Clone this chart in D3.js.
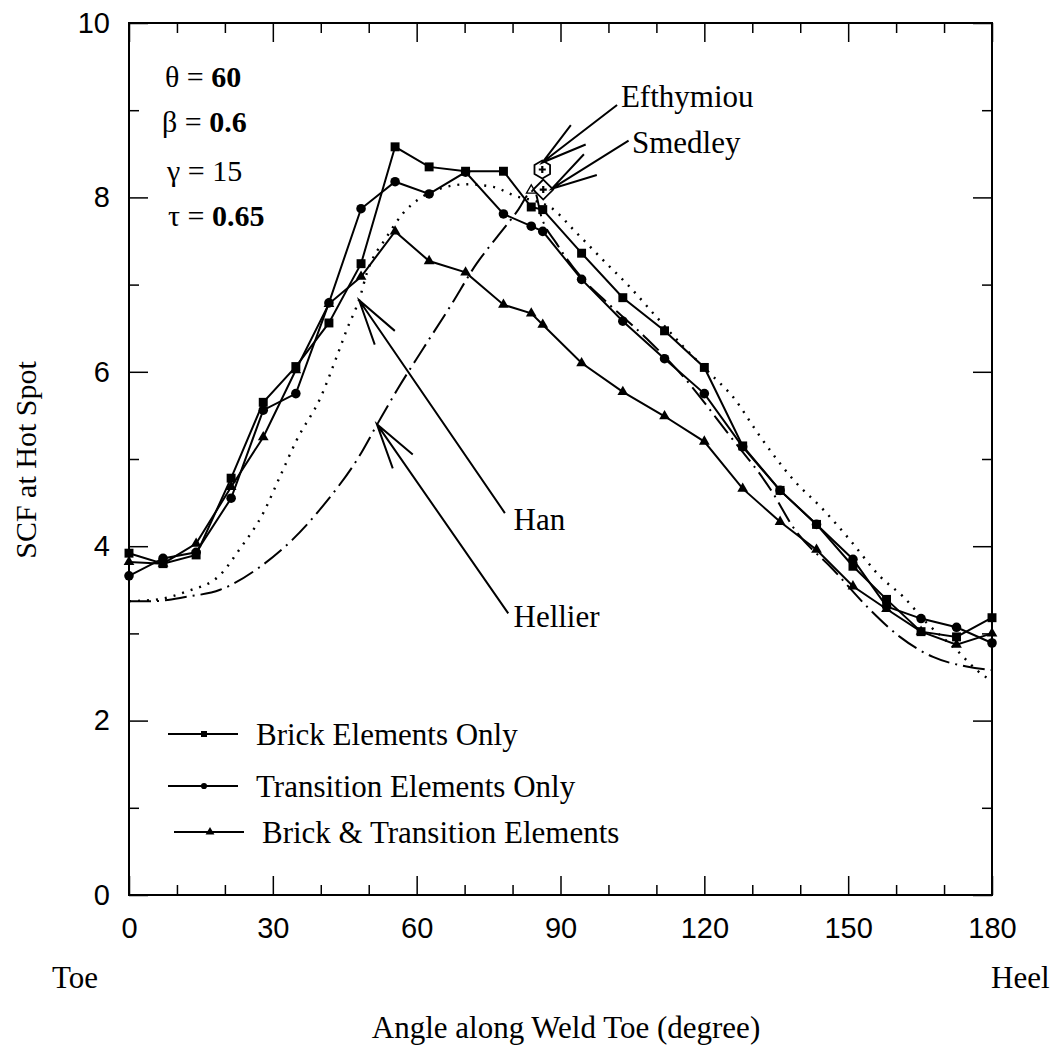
<!DOCTYPE html>
<html lang="en">
<head>
  <meta charset="UTF-8">
  <title>SCF at Hot Spot</title>
  <script src="https://d3js.org/d3.v7.min.js"></script>
  <style>
    body { margin: 0; background: #fff; }
    .tick text { font-family: "Liberation Sans", Arial, sans-serif; font-size: 29px; fill: #000; }
    .lbl { font-family: "Liberation Serif", "Times New Roman", serif; font-size: 31px; fill: #000; }
  </style>
</head>
<body>
<div id="chart"></div>
<script>
// FE results, angle along weld toe (degree)
const angles = [0, 7.1, 14, 21.3, 28, 34.8, 41.7, 48.4, 55.5, 62.6, 70.2, 78.1, 83.9, 86.3, 94.4, 103, 111.7, 120, 128, 135.8, 143.4, 151, 158, 165.2, 172.6, 180];
const brickOnly = [3.92, 3.80, 3.90, 4.78, 5.65, 6.06, 6.56, 7.24, 8.58, 8.35, 8.30, 8.30, 7.89, 7.86, 7.36, 6.85, 6.47, 6.05, 5.15, 4.64, 4.25, 3.77, 3.39, 3.02, 2.96, 3.18];
const transitionOnly = [3.66, 3.86, 3.93, 4.55, 5.56, 5.75, 6.79, 7.87, 8.18, 8.04, 8.29, 7.81, 7.67, 7.61, 7.06, 6.58, 6.15, 5.75, 5.14, 4.64, 4.25, 3.85, 3.31, 3.17, 3.07, 2.89];
const brickTransition = [3.82, 3.80, 4.03, 4.68, 5.25, 6.02, 6.78, 7.09, 7.61, 7.27, 7.14, 6.77, 6.67, 6.54, 6.10, 5.77, 5.49, 5.20, 4.66, 4.28, 3.96, 3.54, 3.28, 3.02, 2.87, 3.00];

// parametric equations
const hanAngles = [0, 6, 12, 19, 23, 28, 31.5, 35, 40, 43.3, 45.4, 48.2, 49.6, 53.8, 57.2, 60.7, 64.9, 70.4, 76, 80.9, 84, 87.8, 93.4, 98.9, 104.5, 110, 115.6, 121.2, 126, 131.6, 138.6, 144.8, 150.4, 156.7, 161.5, 166.4, 172.6, 176.8, 180];
const hanSCF = [3.37, 3.39, 3.48, 3.67, 3.96, 4.38, 4.80, 5.22, 5.71, 6.17, 6.48, 6.86, 7.13, 7.55, 7.82, 7.99, 8.10, 8.15, 8.12, 8.01, 7.97, 7.89, 7.59, 7.28, 6.97, 6.63, 6.29, 5.98, 5.71, 5.26, 4.76, 4.42, 4.07, 3.65, 3.42, 3.12, 2.81, 2.58, 2.45];
const hellierAngles = [0, 5, 12, 19, 27, 34, 41, 48, 52, 56, 61.4, 67, 72.5, 77.4, 81.2, 83.5, 84.5, 86, 89.2, 94.4, 100, 108, 116, 124.7, 134.3, 138.5, 146.9, 154.6, 160.8, 167.7, 174.7, 180];
const hellierSCF = [3.37, 3.37, 3.42, 3.50, 3.75, 4.07, 4.50, 5.03, 5.42, 5.80, 6.27, 6.75, 7.24, 7.59, 7.86, 8.05, 8.08, 7.78, 7.47, 7.08, 6.78, 6.38, 5.92, 5.31, 4.61, 4.22, 3.73, 3.27, 2.96, 2.73, 2.62, 2.58];

// single point predictions
const efthymiouPt = [86.2, 8.32];
const smedleyPt = [86.4, 8.09];
const otherPt = [83.9, 8.08];

const xTicks = [0, 30, 60, 90, 120, 150, 180];
const yTicks = [0, 2, 4, 6, 8, 10];

const w = 1050, h = 1049;
const margin = { top: 23, right: 58, bottom: 154, left: 129 };
const iw = w - margin.left - margin.right;
const ih = h - margin.top - margin.bottom;

const svg = d3.select("#chart").append("svg")
  .attr("width", w)
  .attr("height", h)
  .style("display", "block");

const g = svg.append("g").attr("transform", `translate(${margin.left},${margin.top})`);

const x = d3.scaleLinear().domain([0, 180]).range([0, iw]);
const y = d3.scaleLinear().domain([0, 10]).range([ih, 0]);

// ticks on all four sides, pointing inward
const xMinor = d3.range(0, 181, 10).filter(d => d % 30 !== 0);
const yMinor = d3.range(1, 10, 2);

function styleAxis(sel) {
  sel.select(".domain").remove();
  sel.selectAll(".tick line").attr("stroke", "#000").attr("stroke-width", 1.5);
}

g.append("g").attr("transform", `translate(0,${ih})`)
  .call(d3.axisBottom(x).tickValues(xTicks).tickSizeInner(-19).tickSizeOuter(0).tickPadding(22))
  .call(styleAxis);
g.append("g").attr("transform", `translate(0,${ih})`)
  .call(d3.axisBottom(x).tickValues(xMinor).tickSize(-10).tickFormat(""))
  .call(styleAxis);
g.append("g")
  .call(d3.axisTop(x).tickValues(xTicks).tickSize(-19).tickFormat(""))
  .call(styleAxis);
g.append("g")
  .call(d3.axisTop(x).tickValues(xMinor).tickSize(-10).tickFormat(""))
  .call(styleAxis);
g.append("g")
  .call(d3.axisLeft(y).tickValues(yTicks).tickSizeInner(-19).tickSizeOuter(0).tickPadding(19))
  .call(styleAxis);
g.append("g")
  .call(d3.axisLeft(y).tickValues(yMinor).tickSize(-10).tickFormat(""))
  .call(styleAxis);
g.append("g").attr("transform", `translate(${iw},0)`)
  .call(d3.axisRight(y).tickValues(yTicks).tickSize(-19).tickFormat(""))
  .call(styleAxis);
g.append("g").attr("transform", `translate(${iw},0)`)
  .call(d3.axisRight(y).tickValues(yMinor).tickSize(-10).tickFormat(""))
  .call(styleAxis);

g.selectAll(".tick text").attr("fill", "#000");

g.append("rect")
  .attr("width", iw).attr("height", ih)
  .attr("fill", "none").attr("stroke", "#000").attr("stroke-width", 2);

// curves
const curveLine = d3.line().x(d => x(d[0])).y(d => y(d[1])).curve(d3.curveMonotoneX);

g.append("path")
  .datum(d3.zip(hanAngles, hanSCF))
  .attr("d", curveLine)
  .attr("fill", "none").attr("stroke", "#000").attr("stroke-width", 2.4)
  .attr("stroke-dasharray", "2,7");

g.append("path")
  .datum(d3.zip(hellierAngles, hellierSCF))
  .attr("d", curveLine)
  .attr("fill", "none").attr("stroke", "#000").attr("stroke-width", 2)
  .attr("stroke-dasharray", "22,6,2,6");

// FE series
const series = [
  { name: "Brick Elements Only", values: brickOnly, symbol: d3.symbolSquare, size: 80, legSize: 36 },
  { name: "Transition Elements Only", values: transitionOnly, symbol: d3.symbolCircle, size: 72, legSize: 30 },
  { name: "Brick & Transition Elements", values: brickTransition, symbol: d3.symbolTriangle, size: 50, legSize: 34 }
];

const line = d3.line().x(d => x(d[0])).y(d => y(d[1]));

series.forEach(s => {
  const pts = d3.zip(angles, s.values);
  g.append("path")
    .datum(pts)
    .attr("d", line)
    .attr("fill", "none").attr("stroke", "#000").attr("stroke-width", 2);
  g.selectAll(null)
    .data(pts)
    .enter()
    .append("path")
    .attr("d", d3.symbol().type(s.symbol).size(s.size))
    .attr("transform", d => `translate(${x(d[0])},${y(d[1])})`)
    .attr("fill", "#000");
});

// Efthymiou (hexagon) and Smedley (diamond) points with a plus inside
function plus(sel, r) {
  sel.append("path")
    .attr("d", `M${-r},0H${r}M0,${-r}V${r}`)
    .attr("stroke", "#000").attr("stroke-width", 2.2);
}
const hexG = g.append("g").attr("transform", `translate(${x(efthymiouPt[0])},${y(efthymiouPt[1])})`);
hexG.append("path")
  .attr("d", d3.line()(d3.range(6).map(i => [9 * Math.sin(i * Math.PI / 3), -9 * Math.cos(i * Math.PI / 3)])) + "Z")
  .attr("fill", "#fff").attr("stroke", "#000").attr("stroke-width", 1.8);
plus(hexG, 3.5);

const diaG = g.append("g").attr("transform", `translate(${x(smedleyPt[0])},${y(smedleyPt[1])})`);
diaG.append("path")
  .attr("d", "M0,-10L10,0L0,10L-10,0Z")
  .attr("fill", "#fff").attr("stroke", "#000").attr("stroke-width", 1.8);
plus(diaG, 3.5);

g.append("path")
  .attr("d", d3.symbol().type(d3.symbolTriangle).size(40))
  .attr("transform", `translate(${x(otherPt[0])},${y(otherPt[1])})`)
  .attr("fill", "none").attr("stroke", "#000").attr("stroke-width", 1.3);

// arrows with labels
const notes = [
  { text: "Han", tip: [48.0, 6.82], tail: [78.4, 4.38], at: [80.2, 4.19] },
  { text: "Hellier", tip: [51.7, 5.40], tail: [79.1, 3.23], at: [80.2, 3.07] },
  { text: "Efthymiou", tip: [86.2, 8.40], tail: [101.8, 9.06], at: [102.6, 9.04] },
  { text: "Smedley", tip: [88.2, 8.10], tail: [104.2, 8.65], at: [104.9, 8.51] }
];

notes.forEach(n => {
  const tx = x(n.tip[0]), ty = y(n.tip[1]);
  const ex = x(n.tail[0]), ey = y(n.tail[1]);
  const a = Math.atan2(ey - ty, ex - tx);
  const len = 47, spread = 15 * Math.PI / 180;
  const path = d3.path();
  path.moveTo(ex, ey); path.lineTo(tx, ty);
  path.moveTo(tx + len * Math.cos(a - spread), ty + len * Math.sin(a - spread)); path.lineTo(tx, ty);
  path.lineTo(tx + len * Math.cos(a + spread), ty + len * Math.sin(a + spread));
  g.append("path").attr("d", path.toString())
    .attr("fill", "none").attr("stroke", "#000").attr("stroke-width", 2);
  g.append("text").attr("class", "lbl")
    .attr("x", x(n.at[0])).attr("y", y(n.at[1]))
    .text(n.text);
});

// parameter block
const params = [
  { sym: "\u03b8 = ", val: "60", bold: true, dx: 0 },
  { sym: "\u03b2 = ", val: "0.6", bold: true, dx: -3 },
  { sym: "\u03b3 = ", val: "15", bold: false, dx: 2 },
  { sym: "\u03c4 = ", val: "0.65", bold: true, dx: 3 }
];
const paramY = [87, 132, 181, 226];
params.forEach((p, i) => {
  const t = svg.append("text").attr("class", "lbl")
    .attr("x", 165 + p.dx).attr("y", paramY[i])
    .style("font-size", "30px");
  t.append("tspan").text(p.sym);
  t.append("tspan").text(p.val).style("font-weight", p.bold ? "bold" : "normal");
});

// legend
const legY = [734, 786, 832];
series.forEach((s, i) => {
  const lg = svg.append("g").attr("transform", `translate(0,${legY[i]})`);
  const x0 = i === 2 ? 174 : 168;
  lg.append("line").attr("x1", x0).attr("x2", x0 + 70).attr("y1", 0).attr("y2", 0)
    .attr("stroke", "#000").attr("stroke-width", 2);
  lg.append("path")
    .attr("d", d3.symbol().type(s.symbol).size(s.legSize))
    .attr("transform", `translate(${x0 + 36},0)`)
    .attr("fill", "#000");
  lg.append("text").attr("class", "lbl")
    .attr("x", i === 2 ? 262 : 256).attr("y", 11)
    .text(s.name);
});

// axis titles
svg.append("text").attr("class", "lbl")
  .attr("transform", "translate(36,460) rotate(-90)")
  .attr("text-anchor", "middle")
  .style("font-size", "30px")
  .text("SCF at Hot Spot");

svg.append("text").attr("class", "lbl")
  .attr("x", 566).attr("y", 1038)
  .attr("text-anchor", "middle")
  .text("Angle along Weld Toe (degree)");

svg.append("text").attr("class", "lbl")
  .attr("x", 52).attr("y", 988)
  .text("Toe");

svg.append("text").attr("class", "lbl")
  .attr("x", 991).attr("y", 988)
  .text("Heel");
</script>
</body>
</html>
